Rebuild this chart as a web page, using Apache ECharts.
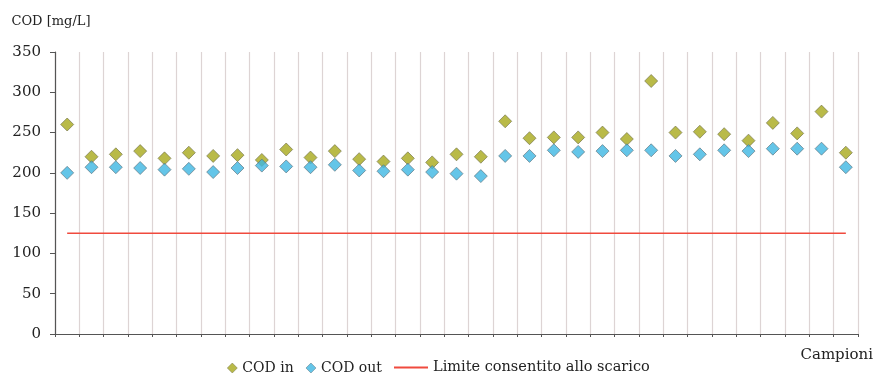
<!DOCTYPE html>
<html>
<head>
<meta charset="utf-8">
<script src="https://cdn.jsdelivr.net/npm/echarts@6/dist/echarts.min.js"></script>
<style>html,body{margin:0;padding:0;background:#fff;}#c{width:876px;height:382px;}</style>
</head>
<body>
<div id="c"></div>
<script>
const categories = Array.from({length: 33}, (_, i) => String(i + 1));
const codIn = [260, 220, 223, 227, 218, 225, 221, 222, 216, 229, 219, 227, 217, 214, 218, 213, 223, 220, 264, 243, 244, 244, 250, 242, 314, 250, 251, 248, 240, 262, 249, 276, 225];
const codOut = [200, 207, 207, 206, 204, 205, 201, 206, 209, 208, 207, 210, 203, 202, 204, 201, 199, 196, 221, 221, 228, 226, 227, 228, 228, 221, 223, 228, 227, 230, 230, 230, 207];
const limit = [125, 125, 125, 125, 125, 125, 125, 125, 125, 125, 125, 125, 125, 125, 125, 125, 125, 125, 125, 125, 125, 125, 125, 125, 125, 125, 125, 125, 125, 125, 125, 125, 125];
const yTicks = [0, 50, 100, 150, 200, 250, 300, 350];

const FONT = 'DejaVu Serif';
const IN_COLOR = '#a8a91a';
const OUT_COLOR = '#3db6e2';
const LIM_COLOR = '#f04a3e';
const chart = echarts.init(document.getElementById('c'), null, {renderer: 'canvas'});
chart.setOption({
  backgroundColor: '#ffffff',
  animation: false,
  grid: {left: 55, right: 16, top: 52, bottom: 48, containLabel: false},
  legend: [
    {
      bottom: 2, left: 222,
      itemGap: 12, itemWidth: 10, itemHeight: 10,
      textStyle: {fontFamily: FONT, fontSize: 14, color: '#222'},
      data: [
        {name: 'COD in', icon: 'diamond', itemStyle: {color: IN_COLOR, borderColor: '#6f6f4a', borderWidth: 0.6}},
        {name: 'COD out', icon: 'diamond', itemStyle: {color: OUT_COLOR, borderColor: '#5a6e78', borderWidth: 0.6}}
      ]
    },
    {
      bottom: 2, left: 389,
      itemWidth: 34, itemHeight: 2,
      textStyle: {fontFamily: FONT, fontSize: 14.5, color: '#222'},
      data: [
        {name: 'Limite consentito allo scarico', icon: 'rect', itemStyle: {color: LIM_COLOR}}
      ]
    }
  ],
  xAxis: {
    type: 'category',
    data: categories,
    boundaryGap: true,
    name: 'Campioni',
    nameLocation: 'end',
    nameGap: 15,
    nameTextStyle: {fontFamily: FONT, fontSize: 15, color: '#222', align: 'right', verticalAlign: 'top', padding: [14, 0, 0, 0]},
    axisLine: {lineStyle: {color: '#555', width: 1.2}},
    axisTick: {show: true, alignWithLabel: false, length: 3, lineStyle: {color: '#555'}},
    axisLabel: {show: false},
    splitLine: {show: true, lineStyle: {color: '#ddd4d4', width: 1.2}}
  },
  yAxis: {
    type: 'value',
    min: 0, max: 350, interval: 50,
    name: 'COD [mg/L]',
    nameLocation: 'end',
    nameGap: 30,
    nameTextStyle: {fontFamily: FONT, fontSize: 13, color: '#222', align: 'center', verticalAlign: 'middle', padding: [0, 8, 0, 0]},
    axisLine: {show: true, lineStyle: {color: '#555', width: 1.2}},
    axisTick: {show: true, length: 5, lineStyle: {color: '#555'}},
    axisLabel: {fontFamily: FONT, fontSize: 15, color: '#222', margin: 14,
      formatter: v => yTicks.includes(v) ? String(v) : ''},
    splitLine: {show: false}
  },
  series: [
    {
      name: 'COD in', type: 'scatter', data: codIn,
      symbol: 'diamond', symbolSize: 13,
      itemStyle: {color: IN_COLOR, borderColor: '#6f6f4a', borderWidth: 0.8}
    },
    {
      name: 'COD out', type: 'scatter', data: codOut,
      symbol: 'diamond', symbolSize: 13,
      itemStyle: {color: OUT_COLOR, borderColor: '#5a6e78', borderWidth: 0.8}
    },
    {
      name: 'Limite consentito allo scarico', type: 'line', data: limit,
      symbol: 'none', lineStyle: {color: LIM_COLOR, width: 1.5},
      itemStyle: {color: LIM_COLOR}
    }
  ]
});
</script>
</body>
</html>
